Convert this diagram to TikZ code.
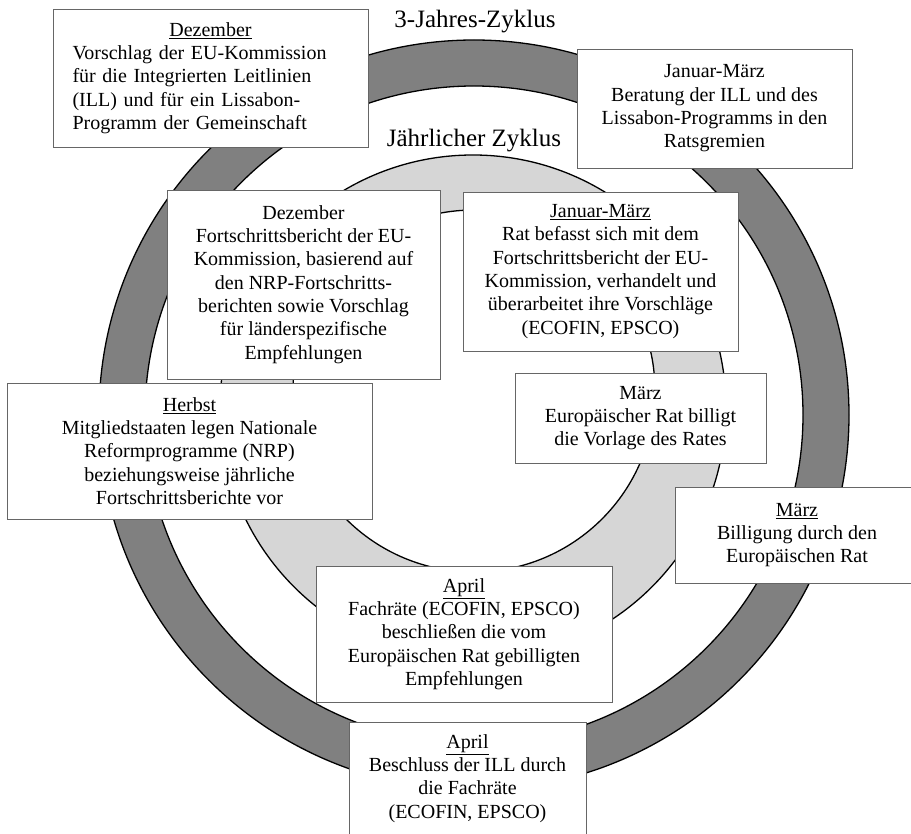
\documentclass[tikz,border=0pt]{standalone}
\usepackage{fontspec}
\setmainfont{Liberation Serif}
\definecolor{ringdark}{gray}{0.5}
\definecolor{ringlight}{gray}{0.84}
\definecolor{boxline}{gray}{0.4}
\begin{document}
\begin{tikzpicture}[x=1pt,y=-1pt,
  box/.style={draw=boxline, line width=0.9pt, fill=white, inner sep=0pt,
    align=center, font=\fontsize{20}{23.3}\selectfont},
  ring/.style={draw=black, line width=1.3pt, even odd rule},
  cycletitle/.style={font=\fontsize{25}{30}\selectfont, inner sep=0pt}]
\useasboundingbox (0,0) rectangle (911,834);
% rings
\filldraw[ring, fill=ringdark] (474,415) circle[radius=375pt] (474,415) circle[radius=329pt];
\filldraw[ring, fill=ringlight] (473,408) circle[radius=253pt] (474,391) circle[radius=181pt];
% titles
\node[cycletitle] (t3) at (475,22) {3-Jahres-Zyklus};
\node[cycletitle] (t1) at (474,141) {Jährlicher Zyklus};
% boxes
\node[box, minimum width=315pt, minimum height=138pt, text width=276pt, align=left] (dez1) at (210.5,78)
  {\hspace*{\fill}\underline{Dezember}\hspace*{\fill}\kern0pt\\
   Vorschlag der EU-Kommission\\
   für die Integrierten Leitlinien\\
   (ILL) und für ein Lissabon-\\
   Programm der Gemeinschaft};
\node[box, minimum width=275pt, minimum height=119pt] (jan1) at (714.5,108.5)
  {Januar-März\\Beratung der ILL und des\\Lissabon-Programms in den\\Ratsgremien};
\node[box, minimum width=273pt, minimum height=189pt] (dez2) at (303.5,284.5)
  {Dezember\\Fortschrittsbericht der EU-\\Kommission, basierend auf\\den NRP-Fortschritts-\\berichten sowie Vorschlag\\für länderspezifische\\Empfehlungen};
\node[box, minimum width=275pt, minimum height=159pt] (jan2) at (600.5,271.5)
  {\underline{Januar-März}\\Rat befasst sich mit dem\\Fortschrittsbericht der EU-\\Kommission, verhandelt und\\überarbeitet ihre Vorschläge\\(ECOFIN, EPSCO)};
\node[box, minimum width=251pt, minimum height=90pt] (mar2) at (640.5,418)
  {März\\Europäischer Rat billigt\\die Vorlage des Rates};
\node[box, minimum width=244pt, minimum height=96pt] (mar1) at (797,535)
  {\underline{März}\\Billigung durch den\\Europäischen Rat};
\node[box, minimum width=365pt, minimum height=136pt] (herbst) at (189.5,451)
  {\underline{Herbst}\\Mitgliedstaaten legen Nationale\\Reformprogramme (NRP)\\beziehungsweise jährliche\\Fortschrittsberichte vor};
\node[box, minimum width=296pt, minimum height=136pt] (apr2) at (464,634)
  {\underline{April}\\Fachräte (ECOFIN, EPSCO)\\beschließen die vom\\Europäischen Rat gebilligten\\Empfehlungen};
\node[box, minimum width=237pt, minimum height=113pt] (apr1) at (467.5,778.5)
  {\underline{April}\\Beschluss der ILL durch\\die Fachräte\\(ECOFIN, EPSCO)};
\end{tikzpicture}
\end{document}
